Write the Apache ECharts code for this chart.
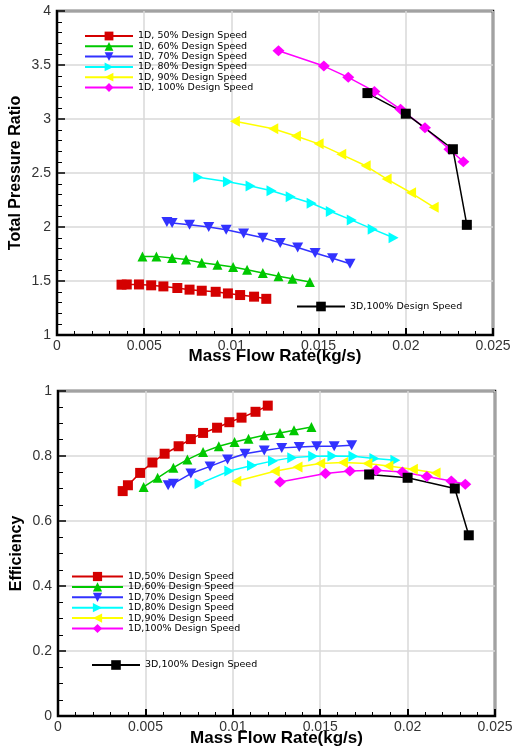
<!DOCTYPE html>
<html><head><meta charset="utf-8">
<script src="https://cdn.jsdelivr.net/npm/echarts@6/dist/echarts.min.js"></script>
<style>html,body{margin:0;padding:0;background:#fff}#c{width:516px;height:747px}</style>
</head><body><div id="c"></div>
<script>
// ---- data ----
const namesTop = ['1D, 50% Design Speed','1D, 60% Design Speed','1D, 70% Design Speed','1D, 80% Design Speed','1D, 90% Design Speed','1D, 100% Design Speed'];
const namesBottom = ['1D,50% Design Speed','1D,60% Design Speed','1D,70% Design Speed','1D,80% Design Speed','1D,90% Design Speed','1D,100% Design Speed'];
const name3D = '3D,100% Design Speed';
const xTicks = [0, 0.005, 0.01, 0.015, 0.02, 0.025];
const prTicks = [1, 1.5, 2, 2.5, 3, 3.5, 4];
const effTicks = [0, 0.2, 0.4, 0.6, 0.8, 1];

const flow50 = [0.0037,0.0040,0.0047,0.0054,0.0061,0.0069,0.0076,0.0083,0.0091,0.0098,0.0105,0.0113,0.0120];
const pr50   = [1.466,1.468,1.468,1.46,1.45,1.435,1.42,1.41,1.40,1.385,1.37,1.355,1.335];
const eff50  = [0.692,0.71,0.748,0.78,0.807,0.83,0.852,0.871,0.887,0.904,0.918,0.936,0.955];

const flow60 = [0.0049,0.0057,0.0066,0.0074,0.0083,0.0092,0.0101,0.0109,0.0118,0.0127,0.0135,0.0145];
const pr60   = [1.728,1.728,1.713,1.698,1.67,1.651,1.63,1.605,1.574,1.543,1.52,1.49];
const eff60  = [0.705,0.733,0.764,0.789,0.812,0.83,0.843,0.853,0.864,0.871,0.879,0.889];

const flow70 = [0.0063,0.0066,0.0076,0.0087,0.0097,0.0107,0.0118,0.0128,0.0138,0.0148,0.0158,0.0168];
const pr70   = [2.046,2.037,2.02,2.0,1.975,1.94,1.90,1.853,1.81,1.76,1.71,1.66];
const eff70  = [0.71,0.715,0.746,0.768,0.789,0.807,0.817,0.825,0.828,0.83,0.83,0.833];

const flow80 = [0.0081,0.0098,0.0111,0.0123,0.0134,0.0146,0.0157,0.0169,0.0181,0.0193];
const pr80   = [2.46,2.42,2.38,2.335,2.28,2.22,2.144,2.064,1.98,1.9];
const eff80  = [0.715,0.754,0.771,0.785,0.795,0.799,0.8,0.799,0.792,0.787];

const flow90 = [0.0102,0.0124,0.0137,0.0150,0.0163,0.0177,0.0189,0.0203,0.0216];
const pr90   = [2.979,2.91,2.843,2.77,2.673,2.567,2.445,2.317,2.183];
const eff90  = [0.722,0.753,0.766,0.777,0.78,0.777,0.769,0.759,0.748];

const flow100 = [0.0127,0.0153,0.0167,0.0182,0.0197,0.0211,0.0225,0.0233];
const pr100   = [3.632,3.49,3.386,3.255,3.09,2.918,2.72,2.604];
const eff100  = [0.72,0.746,0.754,0.756,0.751,0.737,0.723,0.713];

const flow3D = [0.0178,0.0200,0.0227,0.0235];
const pr3D   = [3.24,3.049,2.72,2.02];
const eff3D  = [0.743,0.733,0.70,0.556];

// ---- styles ----
const speedSets = [
  {flow: flow50, pr: pr50, eff: eff50, color: '#d40000', symbol: 'rect', size: 10},
  {flow: flow60, pr: pr60, eff: eff60, color: '#00c800', symbol: 'triangle', size: 10},
  {flow: flow70, pr: pr70, eff: eff70, color: '#3232ff', symbol: 'path://M0,0L10,0L5,9Z', size: [11,10]},
  {flow: flow80, pr: pr80, eff: eff80, color: '#00ffff', symbol: 'path://M0,0L9,5L0,10Z', size: [10,11]},
  {flow: flow90, pr: pr90, eff: eff90, color: '#ffff00', symbol: 'path://M9,0L0,5L9,10Z', size: [10,11]},
  {flow: flow100, pr: pr100, eff: eff100, color: '#ff00ff', symbol: 'diamond', size: [12,11]}
];

const FONT = 'Liberation Sans, Arial, sans-serif';
function xAxis(gi, gap) {
  return {
    type: 'value', gridIndex: gi, min: xTicks[0], max: xTicks[xTicks.length-1], interval: xTicks[1]-xTicks[0],
    name: 'Mass Flow Rate(kg/s)', nameLocation: 'middle', nameGap: gap, nameMoveOverlap: false,
    nameTextStyle: {fontFamily: FONT, fontWeight: 'bold', fontSize: 17, color: '#000'},
    axisLine: {onZero: false, lineStyle: {color: '#000', width: 2}},
    axisTick: {inside: true, length: 7, lineStyle: {color: '#000', width: 2}},
    minorTick: {show: true, splitNumber: 5, length: 4, lineStyle: {color: '#000', width: 1}},
    splitLine: {show: true, lineStyle: {color: '#d8d8d8', width: 1.5}},
    axisLabel: {fontFamily: FONT, fontSize: 14, color: '#333', margin: 4}
  };
}
function yAxis(gi, ticks, name, split) {
  return {
    type: 'value', gridIndex: gi, min: ticks[0], max: ticks[ticks.length-1], interval: ticks[1]-ticks[0],
    name: name, nameLocation: 'middle', nameGap: 33, nameMoveOverlap: false,
    nameTextStyle: {fontFamily: FONT, fontWeight: 'bold', fontSize: 16, color: '#000'},
    axisLine: {onZero: false, lineStyle: {color: '#000', width: 2}},
    axisTick: {inside: true, length: 8, lineStyle: {color: '#000', width: 1.5}},
    minorTick: {show: true, splitNumber: split, length: 5, lineStyle: {color: '#000', width: 1}},
    splitLine: {show: true, lineStyle: {color: '#d8d8d8', width: 1.5}},
    axisLabel: {fontFamily: FONT, fontSize: 14, color: '#333', margin: 6}
  };
}

const series = [];
speedSets.forEach((s, i) => {
  const common = {type: 'line', symbol: s.symbol, symbolSize: s.size, showSymbol: true,
    lineStyle: {color: s.color, width: 1.5}, itemStyle: {color: s.color}, animation: false};
  series.push(Object.assign({}, common, {name: namesTop[i], xAxisIndex: 0, yAxisIndex: 0,
    data: s.flow.map((v, k) => [v, s.pr[k]])}));
  series.push(Object.assign({}, common, {name: namesBottom[i], xAxisIndex: 1, yAxisIndex: 1,
    data: s.flow.map((v, k) => [v, s.eff[k]])}));
});
const common3D = {type: 'line', name: name3D, symbol: 'rect', symbolSize: 10,
  lineStyle: {color: '#000', width: 1.5}, itemStyle: {color: '#000'}, animation: false};
series.push(Object.assign({}, common3D, {xAxisIndex: 0, yAxisIndex: 0, data: flow3D.map((v, k) => [v, pr3D[k]])}));
series.push(Object.assign({}, common3D, {xAxisIndex: 1, yAxisIndex: 1, data: flow3D.map((v, k) => [v, eff3D[k]])}));

const legendText = {fontFamily: 'DejaVu Sans, sans-serif', fontSize: 9.5, color: '#000', lineHeight: 10};
const chart = echarts.init(document.getElementById('c'), null, {renderer: 'canvas'});
chart.setOption({
  backgroundColor: '#fff',
  animation: false,
  grid: [
    {left: 57, right: 23, top: 11, height: 324, show: true, borderColor: '#000', borderWidth: 2.5, backgroundColor: 'transparent', outerBoundsMode: 'none'},
    {left: 58, right: 21, top: 391, height: 325, show: true, borderColor: '#000', borderWidth: 2.5, backgroundColor: 'transparent', outerBoundsMode: 'none'}
  ],
  xAxis: [xAxis(0, 12.5), xAxis(1, 14)],
  yAxis: [yAxis(0, prTicks, 'Total Pressure Ratio', 5), yAxis(1, effTicks, 'Efficiency', 4)],
  legend: [
    {data: namesTop, orient: 'vertical', left: 84, top: 31, padding: 0, itemWidth: 48, itemHeight: 11, itemGap: 0.3, textStyle: legendText, selectedMode: false},
    {data: [name3D], orient: 'vertical', left: 296, top: 301.5, padding: 0, itemWidth: 48, itemHeight: 12, itemGap: 0, textStyle: legendText, selectedMode: false},
    {data: namesBottom, orient: 'vertical', left: 71, top: 571.5, padding: 0, itemWidth: 51, itemHeight: 11.5, itemGap: 0.4, textStyle: legendText, selectedMode: false},
    {data: [name3D], orient: 'vertical', left: 91, top: 660, padding: 0, itemWidth: 48, itemHeight: 12, itemGap: 0, textStyle: legendText, selectedMode: false}
  ],
  series: series
});
</script>
</body></html>
